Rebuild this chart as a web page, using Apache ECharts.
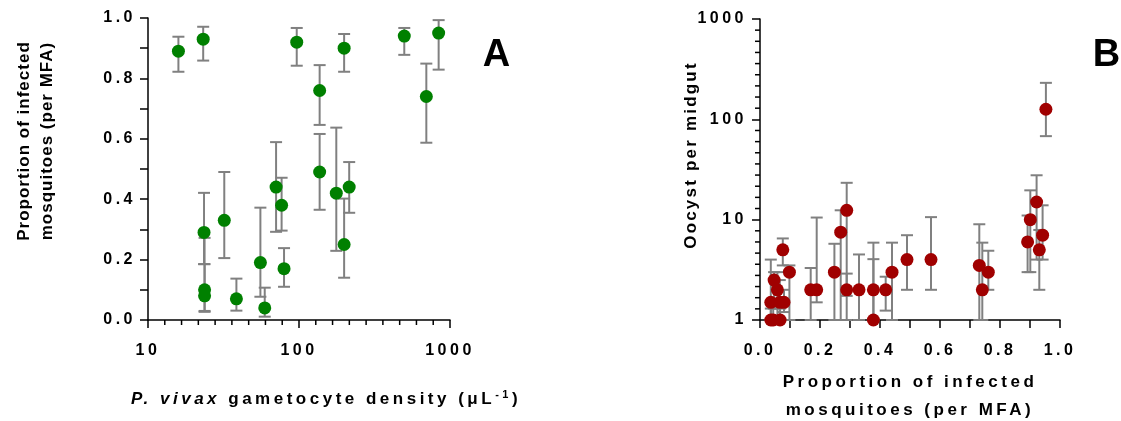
<!DOCTYPE html>
<html>
<head>
<meta charset="utf-8">
<script src="https://cdn.jsdelivr.net/npm/echarts@6/dist/echarts.min.js"></script>
<style>
html,body{margin:0;padding:0;background:#fff;}
#chart{width:1121px;height:421px;}
</style>
</head>
<body>
<div id="chart"></div>
<script>
// Letter spacing emulation (GraphPad-style spaced text), keyed by font weight
(function(){
  var P = window.CanvasRenderingContext2D && CanvasRenderingContext2D.prototype;
  if (!P || !('letterSpacing' in P)) return;
  var d = Object.getOwnPropertyDescriptor(P, 'font');
  if (!d) return;
  Object.defineProperty(P, 'font', {
    configurable: true,
    get: function(){ return d.get.call(this); },
    set: function(v){
      d.set.call(this, v);
      var ls = '0px';
      if (/\b800\b/.test(v)) ls = '1px';
      else if (/\b900\b/.test(v)) ls = '2.2px';
      else if (/bold|\b700\b/.test(v)) ls = '3.5px';
      this.letterSpacing = ls;
    }
  });
})();

// ---------- Panel A: gametocyte density vs proportion infected ----------
var densityA   = [15.9, 23.2, 96.6, 137, 199, 498, 841, 697, 23.5, 23.7, 23.7, 32, 38.5, 55.5, 59.3, 70.5, 76.7, 79.6, 137, 176.6, 199, 215];
var propA      = [0.89, 0.93, 0.92, 0.76, 0.90, 0.94, 0.95, 0.74, 0.29, 0.10, 0.08, 0.33, 0.07, 0.19, 0.04, 0.44, 0.38, 0.17, 0.49, 0.42, 0.25, 0.44];
var propLowA   = [0.822, 0.859, 0.842, 0.646, 0.822, 0.878, 0.829, 0.587, 0.185, 0.030, 0.027, 0.205, 0.031, 0.077, 0.011, 0.292, 0.296, 0.110, 0.365, 0.229, 0.140, 0.355];
var propHighA  = [0.938, 0.971, 0.967, 0.844, 0.947, 0.967, 0.993, 0.849, 0.421, 0.272, 0.185, 0.490, 0.137, 0.372, 0.107, 0.589, 0.471, 0.238, 0.616, 0.637, 0.402, 0.523];

// ---------- Panel B: proportion infected vs oocysts per midgut ----------
var propB      = [0.036, 0.044, 0.067, 0.036, 0.066, 0.080, 0.047, 0.058, 0.076, 0.098, 0.169, 0.189, 0.248, 0.269, 0.289, 0.289, 0.330, 0.378, 0.378, 0.419, 0.440, 0.490, 0.570, 0.731, 0.741, 0.761, 0.892, 0.901, 0.922, 0.931, 0.942, 0.953];
var oocystB    = [1, 1, 1, 1.5, 1.5, 1.5, 2.5, 2.0, 5, 3, 2, 2, 3, 7.5, 12.4, 2, 2, 2, 1, 2, 3, 4, 4, 3.5, 2, 3, 6, 10, 15, 5, 7, 126];
var oocystLowB = [1, 1, 1, 1, 1, 1.2, 1.3, 1, 3.5, 1, 1, 1.5, 1, 1, 1.74, 1, 1, 1, 1, 1.24, 1, 2, 2, 1, 1, 2, 3, 3, 4, 2, 4, 68];
var oocystHighB= [1.3, 1.5, 1.3, 4.0, 2.5, 2.0, 3.0, 3.0, 6.5, 3.5, 3.3, 10.5, 5.75, 12.4, 23.3, 2.9, 4.5, 5.9, 4.04, 2.7, 5.9, 7, 10.6, 9.0, 5.9, 4.9, 11, 19.6, 27.7, 7.9, 13.9, 231];

// log axis ranges and evenly spaced minor tick slots (9 per decade, as in the reference)
var logRangeA = [10, 1000];
var logRangeB = [1, 1000];
var minorTicksA = [1, 2, 3, 4, 5, 6, 7, 8, 10, 11, 12, 13, 14, 15, 16, 17];
var minorTicksB = [1, 2, 3, 4, 5, 6, 7, 8, 10, 11, 12, 13, 14, 15, 16, 17, 19, 20, 21, 22, 23, 24, 25, 26];
var slotsA = 18, slotsB = 27;

var FONT = 'Liberation Sans, Arial, sans-serif';

function zip2(a, b){ return a.map(function(v, i){ return [v, b[i]]; }); }
function zip3(a, b, c){ return a.map(function(v, i){ return [v, b[i], c[i]]; }); }

function errRender(params, api){
  var x = api.value(0), lo = api.value(1), hi = api.value(2);
  var p1 = api.coord([x, hi]), p2 = api.coord([x, lo]);
  var w = 6;
  var st = {stroke: '#808080', lineWidth: 2, fill: null};
  return {type: 'group', children: [
    {type: 'line', shape: {x1: p1[0], y1: p1[1], x2: p2[0], y2: p2[1]}, style: st},
    {type: 'line', shape: {x1: p1[0]-w, y1: p1[1], x2: p1[0]+w, y2: p1[1]}, style: st},
    {type: 'line', shape: {x1: p2[0]-w, y1: p2[1], x2: p2[0]+w, y2: p2[1]}, style: st}
  ]};
}

var axisLineStyle = {color: '#000', width: 1.5};
var labelStyle = {color: '#000', fontSize: 16, fontWeight: 'bold', fontFamily: FONT};
function plain(v){ return String(v); }
function oneDec(v){ return v.toFixed(1); }

var textGraphics = [
  {type: 'text', x: 36, y: 141, rotation: Math.PI/2,
   style: {text: 'Proportion of infected\nmosquitoes (per MFA)', align: 'center', verticalAlign: 'middle',
           fontSize: 17, fontWeight: 800, fontFamily: FONT, lineHeight: 23, fill: '#000'}},
  {type: 'text', x: 326, y: 399,
   style: {text: '{i|P. vivax} gametocyte density (μL{s|-1})', align: 'center', verticalAlign: 'middle',
           fontSize: 17, fontWeight: 'bold', fontFamily: FONT, lineHeight: 22, fill: '#000',
           rich: {
             i: {fontStyle: 'italic', fontWeight: 'bold', fontSize: 17, fontFamily: FONT, lineHeight: 22},
             s: {fontWeight: 'bold', fontSize: 11, fontFamily: FONT, lineHeight: 11, verticalAlign: 'top'}
           }}},
  {type: 'text', x: 691, y: 155, rotation: Math.PI/2,
   style: {text: 'Oocyst per midgut', align: 'center', verticalAlign: 'middle',
           fontSize: 17, fontWeight: 900, fontFamily: FONT, fill: '#000'}},
  {type: 'text', x: 910, y: 396,
   style: {text: 'Proportion of infected\nmosquitoes (per MFA)', align: 'center', verticalAlign: 'middle',
           fontSize: 17, fontWeight: 'bold', fontFamily: FONT, lineHeight: 28, fill: '#000'}},
  {type: 'text', x: 497, y: 56,
   style: {text: 'A', align: 'center', verticalAlign: 'middle', fontSize: 38, fontWeight: 800, fontFamily: FONT, fill: '#000'}},
  {type: 'text', x: 1107, y: 56,
   style: {text: 'B', align: 'center', verticalAlign: 'middle', fontSize: 38, fontWeight: 800, fontFamily: FONT, fill: '#000'}}
];

var option = {
  animation: false,
  backgroundColor: '#fff',
  grid: [
    {left: 148, top: 18, width: 302, height: 302},
    {left: 760, top: 19, width: 300, height: 301}
  ],
  xAxis: [
    {gridIndex: 0, type: 'log', logBase: 10, min: logRangeA[0], max: logRangeA[1],
     axisLine: {onZero: false, lineStyle: axisLineStyle}, axisTick: {length: 8, lineStyle: axisLineStyle},
     splitLine: {show: false},
     axisLabel: Object.assign({margin: 21, formatter: plain}, labelStyle)},
    {gridIndex: 1, type: 'value', min: 0, max: 1, interval: 0.2,
     axisLine: {onZero: false, lineStyle: axisLineStyle}, axisTick: {length: 8, lineStyle: axisLineStyle},
     minorTick: {show: true, splitNumber: 2, length: 8, lineStyle: axisLineStyle},
     splitLine: {show: false},
     axisLabel: Object.assign({margin: 21, formatter: oneDec}, labelStyle)}
  ],
  yAxis: [
    {gridIndex: 0, type: 'value', min: 0, max: 1, interval: 0.2,
     axisLine: {onZero: false, lineStyle: axisLineStyle}, axisTick: {length: 8, lineStyle: axisLineStyle},
     minorTick: {show: true, splitNumber: 2, length: 8, lineStyle: axisLineStyle},
     splitLine: {show: false},
     axisLabel: Object.assign({margin: 12, formatter: oneDec}, labelStyle)},
    {gridIndex: 1, type: 'log', logBase: 10, min: logRangeB[0], max: logRangeB[1],
     axisLine: {onZero: false, lineStyle: axisLineStyle}, axisTick: {length: 8, lineStyle: axisLineStyle},
     splitLine: {show: false},
     axisLabel: Object.assign({margin: 13, formatter: plain}, labelStyle)}
  ],
  series: [
    {type: 'custom', xAxisIndex: 0, yAxisIndex: 0, renderItem: errRender,
     encode: {x: 0, y: [1, 2]}, data: zip3(densityA, propLowA, propHighA), z: 1, silent: true},
    {type: 'scatter', xAxisIndex: 0, yAxisIndex: 0, symbolSize: 13,
     itemStyle: {color: '#008000', opacity: 1}, data: zip2(densityA, propA), z: 2},
    {type: 'custom', xAxisIndex: 1, yAxisIndex: 1, renderItem: errRender,
     encode: {x: 0, y: [1, 2]}, data: zip3(propB, oocystLowB, oocystHighB), z: 1, silent: true},
    {type: 'scatter', xAxisIndex: 1, yAxisIndex: 1, symbolSize: 13,
     itemStyle: {color: '#a00000', opacity: 1}, data: zip2(propB, oocystB), z: 2}
  ],
  graphic: textGraphics
};

var chart = echarts.init(document.getElementById('chart'), null, {renderer: 'canvas'});
chart.setOption(option);

// Minor ticks of the log axes, placed with the axes' own pixel conversion
(function(){
  var tickStyle = {stroke: '#000', lineWidth: 1.5};
  var ticks = [];
  var xa = chart.convertToPixel({xAxisIndex: 0}, logRangeA[0]);
  var xb = chart.convertToPixel({xAxisIndex: 0}, logRangeA[1]);
  var yBase = chart.convertToPixel({yAxisIndex: 0}, 0);
  minorTicksA.forEach(function(k){
    var x = xa + (xb - xa) * k / slotsA;
    ticks.push({type: 'line', silent: true, z: 10,
      shape: {x1: x, y1: yBase, x2: x, y2: yBase + 5}, style: tickStyle});
  });
  var ya = chart.convertToPixel({yAxisIndex: 1}, logRangeB[0]);
  var yb = chart.convertToPixel({yAxisIndex: 1}, logRangeB[1]);
  var xBase = chart.convertToPixel({xAxisIndex: 1}, 0);
  minorTicksB.forEach(function(k){
    var y = ya + (yb - ya) * k / slotsB;
    ticks.push({type: 'line', silent: true, z: 10,
      shape: {x1: xBase - 5, y1: y, x2: xBase, y2: y}, style: tickStyle});
  });
  chart.setOption({graphic: textGraphics.concat(ticks)});
})();
</script>
</body>
</html>
